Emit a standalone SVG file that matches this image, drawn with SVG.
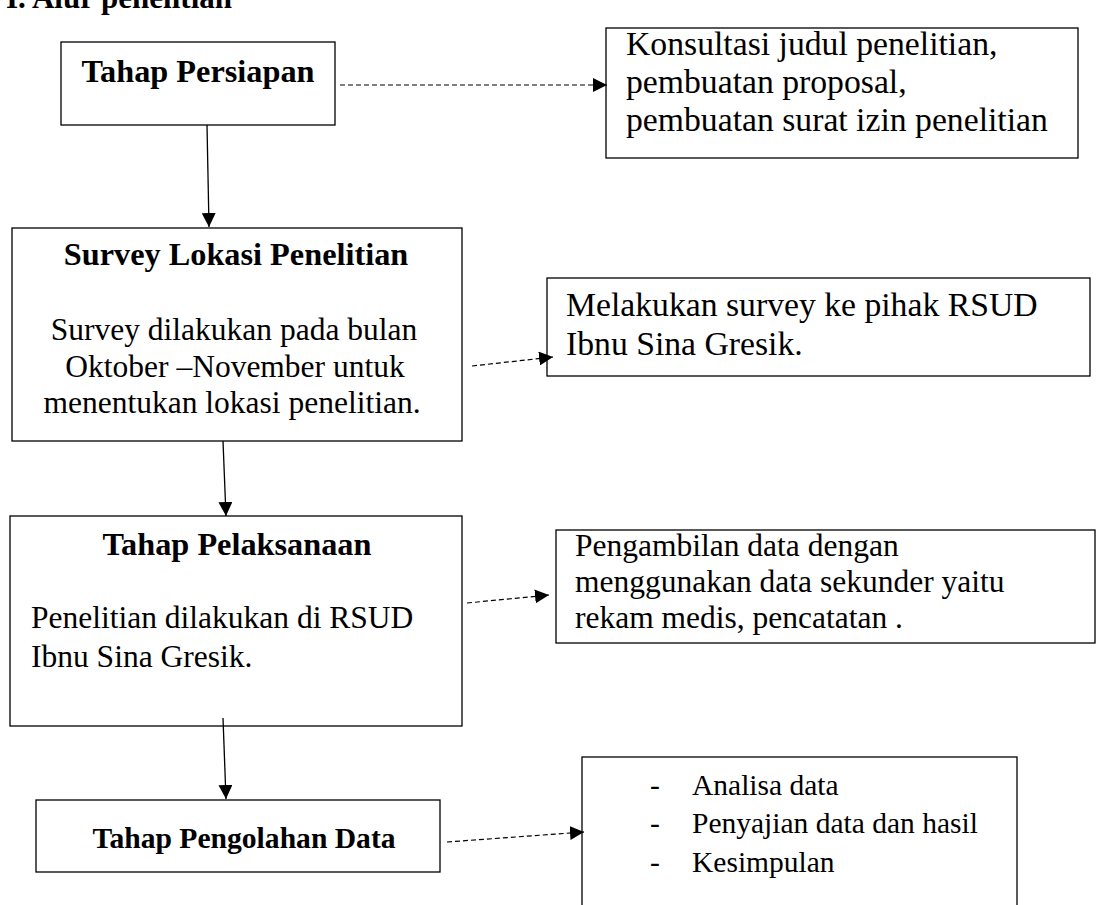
<svg xmlns="http://www.w3.org/2000/svg" width="1115" height="905" viewBox="0 0 1115 905">
<defs>
<style>
.box{fill:#fff;stroke:#000;stroke-width:1.3}
.t{font-family:"Liberation Serif","Times New Roman",serif;font-size:31.5px;fill:#000}
.b{font-weight:bold;font-size:32.3px}
.c{text-anchor:middle}
.s{font-size:29.5px}
.l{font-size:33.7px}
.solid{stroke:#000;stroke-width:1.3;fill:none}
.dash{stroke:#000;stroke-width:1.2;fill:none;stroke-dasharray:5,3}
</style>
<marker id="ah" viewBox="0 0 10 10" refX="10" refY="5" markerWidth="14" markerHeight="14" markerUnits="userSpaceOnUse" orient="auto">
<path d="M0,0 L10,5 L0,10 z" fill="#000"/>
</marker>
</defs>
<rect width="1115" height="905" fill="#fff"/>
<text class="t b" x="232" y="8" text-anchor="end" style="font-size:31px">I. Alur penelitian</text>

<g id="n1">
<rect class="box" x="61" y="42" width="274" height="83"/>
<text class="t b c" x="198" y="82">Tahap Persiapan</text>
</g>
<g id="n1r">
<rect class="box" x="606" y="28" width="472" height="130"/>
<text class="t l" x="626" y="55">Konsultasi judul penelitian,</text>
<text class="t l" x="626" y="93">pembuatan proposal,</text>
<text class="t l" x="626" y="131">pembuatan surat izin penelitian</text>
</g>

<g id="n2">
<rect class="box" x="12" y="228" width="450" height="213"/>
<text class="t b c" x="236" y="265">Survey Lokasi Penelitian</text>
<text class="t c" x="234" y="340">Survey dilakukan pada bulan</text>
<text class="t c" x="235" y="377">Oktober –November untuk</text>
<text class="t c" x="232" y="413">menentukan lokasi penelitian.</text>
</g>
<g id="n2r">
<rect class="box" x="547" y="278" width="543" height="98"/>
<text class="t l" x="566" y="316">Melakukan survey ke pihak RSUD</text>
<text class="t l" x="566" y="355">Ibnu Sina Gresik.</text>
</g>

<g id="n3">
<rect class="box" x="10" y="516" width="452" height="210"/>
<text class="t b c" x="237" y="555">Tahap Pelaksanaan</text>
<text class="t" x="31" y="628">Penelitian dilakukan di RSUD</text>
<text class="t" x="31" y="667">Ibnu Sina Gresik.</text>
</g>
<g id="n3r">
<rect class="box" x="556" y="530" width="539" height="113"/>
<text class="t" x="575" y="556">Pengambilan data dengan</text>
<text class="t" x="575" y="592">menggunakan data sekunder yaitu</text>
<text class="t" x="575" y="628">rekam medis, pencatatan .</text>
</g>

<g id="n4">
<rect class="box" x="36" y="800" width="404" height="72"/>
<text class="t b c" x="244" y="848" style="font-size:29.6px">Tahap Pengolahan Data</text>
</g>
<g id="n4r">
<rect class="box" x="582" y="757" width="435" height="160"/>
<text class="t s" x="650" y="795">-</text>
<text class="t s" x="692" y="795">Analisa data</text>
<text class="t s" x="650" y="833">-</text>
<text class="t s" x="692" y="833">Penyajian data dan hasil</text>
<text class="t s" x="650" y="872">-</text>
<text class="t s" x="692" y="872">Kesimpulan</text>
</g>

<g id="connectors">
<line class="solid" x1="207" y1="125" x2="209" y2="227" marker-end="url(#ah)"/>
<line class="solid" x1="223" y1="441" x2="226" y2="516" marker-end="url(#ah)"/>
<line class="solid" x1="223" y1="718" x2="226" y2="799" marker-end="url(#ah)"/>
<line class="dash" x1="340" y1="85" x2="607" y2="85" marker-end="url(#ah)"/>
<line class="dash" x1="472" y1="366" x2="553" y2="357" marker-end="url(#ah)"/>
<line class="dash" x1="467" y1="603" x2="549" y2="595" marker-end="url(#ah)"/>
<line class="dash" x1="447" y1="842" x2="584" y2="832" marker-end="url(#ah)"/>
</g>
</svg>
